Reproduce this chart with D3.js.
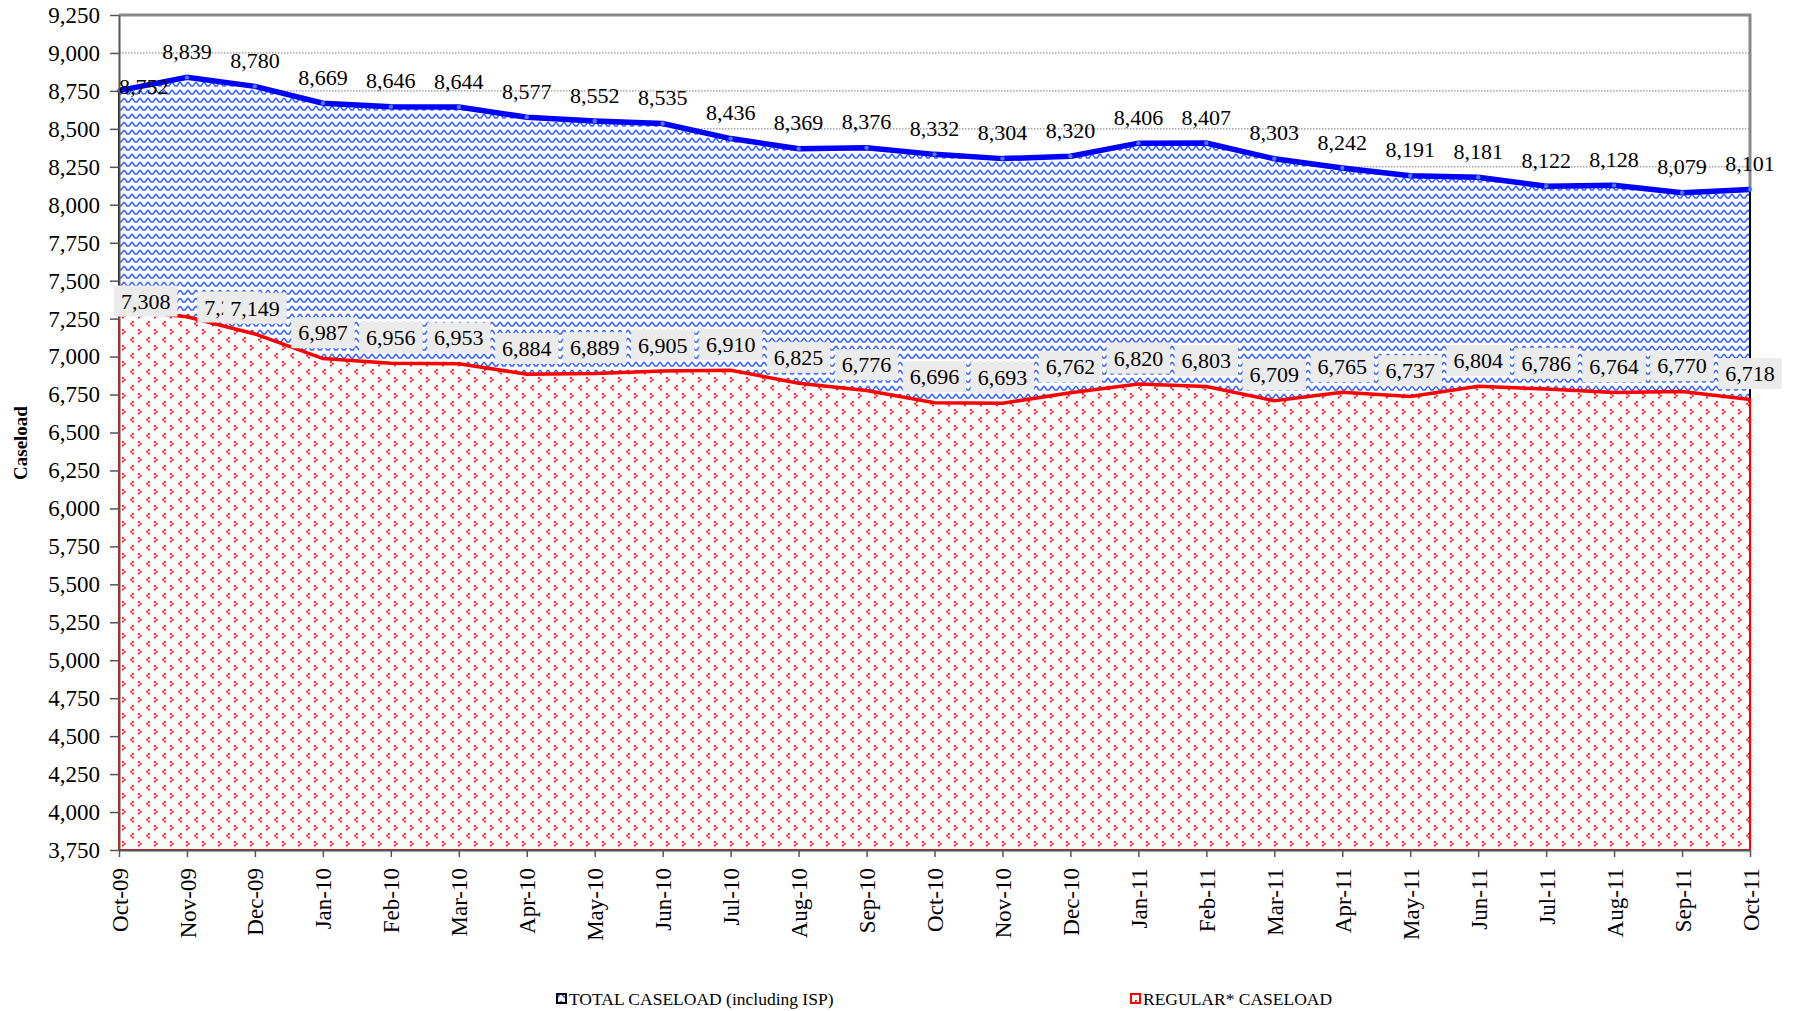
<!DOCTYPE html>
<html lang="en">
<head>
<meta charset="UTF-8">
<title>Caseload</title>
<style>
    body { margin: 0; background: #fff; }
    svg { display: block; font-family: "Liberation Serif", "Times New Roman", serif; }
    .axis { font-family: "Liberation Serif", "Times New Roman", serif; }
    .axis text { font-size: 23px; fill: #000; }
    .axis path { stroke: #555; stroke-width: 2; }
    .axis line { stroke: #555; stroke-width: 1.5; }
    .lbl { font-size: 22px; fill: #000; }
</style>
</head>
<body>
<div id="chart"></div>
<script src="https://d3js.org/d3.v7.min.js"></script>
<script>
const months = ["Oct-09","Nov-09","Dec-09","Jan-10","Feb-10","Mar-10","Apr-10","May-10","Jun-10","Jul-10",
    "Aug-10","Sep-10","Oct-10","Nov-10","Dec-10","Jan-11","Feb-11","Mar-11","Apr-11","May-11","Jun-11",
    "Jul-11","Aug-11","Sep-11","Oct-11"];
const totalCaseload = [8752, 8839, 8780, 8669, 8646, 8644, 8577, 8552, 8535, 8436, 8369, 8376, 8332,
    8304, 8320, 8406, 8407, 8303, 8242, 8191, 8181, 8122, 8128, 8079, 8101];
const regularCaseload = [7308, 7262, 7149, 6987, 6956, 6953, 6884, 6889, 6905, 6910, 6825, 6776, 6696,
    6693, 6762, 6820, 6803, 6709, 6765, 6737, 6804, 6786, 6764, 6770, 6718];
const yTickValues = [3750, 4000, 4250, 4500, 4750, 5000, 5250, 5500, 5750, 6000, 6250, 6500, 6750,
    7000, 7250, 7500, 7750, 8000, 8250, 8500, 8750, 9000, 9250];
const seriesNames = ["TOTAL CASELOAD (including ISP)", "REGULAR* CASELOAD"];

const W = 1794, H = 1011;
const margin = {top: 15, right: 44, bottom: 161, left: 119};

const svg = d3.select("#chart").append("svg")
    .attr("width", W)
    .attr("height", H);

const x = d3.scalePoint().domain(months).range([margin.left, W - margin.right]);
const y = d3.scaleLinear().domain([3750, 9250]).range([H - margin.bottom, margin.top]);

// fill patterns
const defs = svg.append("defs");
const zig = defs.append("pattern").attr("id", "zig")
    .attr("patternUnits", "userSpaceOnUse").attr("width", 8).attr("height", 8);
zig.append("rect").attr("width", 8).attr("height", 8).attr("fill", "#fff");
zig.append("path").attr("d", "M0,6 L1,6 L3.5,2.5 L4.5,2.5 L7,6 L8,6")
    .attr("fill", "none").attr("stroke", "#3060ff").attr("stroke-width", 1.4);

const dots = defs.append("pattern").attr("id", "dots")
    .attr("patternUnits", "userSpaceOnUse").attr("width", 16).attr("height", 16);
dots.append("rect").attr("width", 16).attr("height", 16).attr("fill", "#fff");
[[4,1],[2.2,2.8],[4,4.6],[10,9],[11.8,10.8],[10,12.6]].forEach(p => {
    dots.append("rect").attr("x", p[0]).attr("y", p[1]).attr("width", 1.8).attr("height", 1.8).attr("fill", "#ff0000");
});

// gridlines
svg.append("g")
    .selectAll("line")
    .data(yTickValues.slice(1))
    .enter().append("line")
    .attr("x1", margin.left).attr("x2", W - margin.right)
    .attr("y1", d => y(d)).attr("y2", d => y(d))
    .attr("stroke", "#777").attr("stroke-width", 1).attr("stroke-dasharray", "1.5,1.5");

// areas
const area = d3.area()
    .x((d, i) => x(months[i]))
    .y0(y(3750))
    .y1(d => y(d));

svg.append("path")
    .attr("d", area(totalCaseload))
    .attr("fill", "url(#zig)")
    .attr("stroke", "#000").attr("stroke-width", 2);

svg.append("path")
    .attr("d", area(regularCaseload))
    .attr("fill", "url(#dots)")
    .attr("stroke", "#ff0000").attr("stroke-width", 2);

// plot border (top / right)
svg.append("path")
    .attr("d", `M${margin.left},${y(9250)} H${W - margin.right} V${y(totalCaseload[totalCaseload.length - 1])}`)
    .attr("fill", "none").attr("stroke", "#888").attr("stroke-width", 3);

// lines
const line = d3.line()
    .x((d, i) => x(months[i]))
    .y(d => y(d));

svg.append("path")
    .attr("d", line(totalCaseload))
    .attr("fill", "none").attr("stroke", "#0000ff").attr("stroke-width", 5.5);

svg.selectAll(".dot")
    .data(totalCaseload)
    .enter().append("circle")
    .attr("cx", (d, i) => x(months[i]))
    .attr("cy", d => y(d))
    .attr("r", 2.2)
    .attr("fill", "#4d79ff");

svg.append("path")
    .attr("d", line(regularCaseload))
    .attr("fill", "none").attr("stroke", "#ff0000").attr("stroke-width", 3.5);

// axes
svg.append("g")
    .attr("class", "axis")
    .attr("transform", "translate(" + margin.left + ",0)")
    .call(d3.axisLeft(y).tickValues(yTickValues).tickFormat(d3.format(",")).tickSize(9).tickPadding(10).tickSizeOuter(0));

const xAxis = svg.append("g")
    .attr("class", "axis")
    .attr("transform", "translate(0," + y(3750) + ")")
    .call(d3.axisBottom(x).tickSize(7).tickSizeOuter(0));
xAxis.select(".domain").attr("stroke", "#222").attr("stroke-width", 2.5);
xAxis.selectAll("text")
    .attr("transform", "rotate(-90)")
    .attr("text-anchor", "end")
    .attr("x", -18)
    .attr("y", 0)
    .attr("dy", "0.35em");

// y title
svg.append("text")
    .attr("transform", "translate(20,443) rotate(-90)")
    .attr("text-anchor", "middle")
    .attr("dy", "0.35em")
    .style("font-size", "19px")
    .style("font-weight", "bold")
    .text("Caseload");

// data labels
const fmt = d3.format(",");
const totalNudge = {0: [0, 22]};
const regularNudge = {0: [0, 17], 1: [42, 16]};

const totalLabels = svg.append("g");
totalCaseload.forEach((v, i) => {
    const n = totalNudge[i] || [0, 0];
    const t = totalLabels.append("text")
        .attr("class", "lbl")
        .attr("text-anchor", "middle")
        .attr("dy", "0.35em")
        .attr("x", x(months[i]) + n[0])
        .attr("y", y(v) - 26 + n[1])
        .text(fmt(v));
    const bb = t.node().getBBox();
    if (bb.x < margin.left) t.attr("x", margin.left + bb.width / 2);
});

const regLabels = svg.append("g");
regularCaseload.forEach((v, i) => {
    const n = regularNudge[i] || [0, 0];
    const g = regLabels.append("g");
    const box = g.append("rect").attr("fill", "#ebebeb");
    const t = g.append("text")
        .attr("class", "lbl")
        .attr("text-anchor", "middle")
        .attr("dy", "0.35em")
        .attr("x", x(months[i]) + n[0])
        .attr("y", y(v) - 26 + n[1])
        .text(fmt(v));
    let bb = t.node().getBBox();
    if (bb.x < margin.left) {
        t.attr("x", margin.left + 2 + bb.width / 2);
        bb = t.node().getBBox();
    }
    box.attr("x", bb.x - 7).attr("y", bb.y - 3)
        .attr("width", bb.width + 14).attr("height", bb.height + 6);
});

// legend
const legend = svg.append("g").style("font-size", "17.5px");
const legendX = [557, 1131];
seriesNames.forEach((name, i) => {
    const row = legend.append("g").attr("transform", "translate(" + legendX[i] + ",999)");
    row.append("rect")
        .attr("x", 0).attr("y", -5).attr("width", 9).attr("height", 9)
        .attr("fill", i === 0 ? "url(#zig)" : "url(#dots)")
        .attr("stroke", i === 0 ? "#000" : "#ff0000").attr("stroke-width", 2);
    row.append("text")
        .attr("x", 12).attr("dy", "0.35em")
        .text(name);
});
</script>
</body>
</html>
